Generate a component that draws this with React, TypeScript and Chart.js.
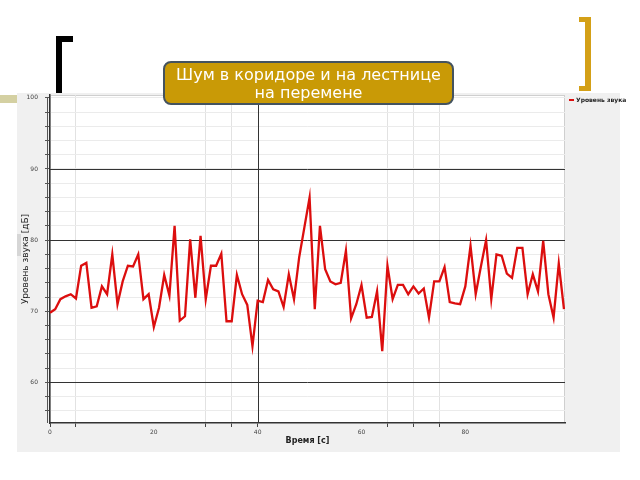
import React, { useEffect, useRef } from "react";
import { Chart, registerables } from "chart.js";

Chart.register(...registerables);

// ---- data ----
const times = [
  0, 1, 2, 3, 4, 5, 6, 7, 8, 9,
  10, 11, 12, 13, 14, 15, 16, 17, 18, 19,
  20, 21, 22, 23, 24, 25, 26, 27, 28, 29,
  30, 31, 32, 33, 34, 35, 36, 37, 38, 39,
  40, 41, 42, 43, 44, 45, 46, 47, 48, 49,
  50, 51, 52, 53, 54, 55, 56, 57, 58, 59,
  60, 61, 62, 63, 64, 65, 66, 67, 68, 69,
  70, 71, 72, 73, 74, 75, 76, 77, 78, 79,
  80, 81, 82, 83, 84, 85, 86, 87, 88, 89,
  90, 91, 92, 93, 94, 95, 96, 97, 98, 99,
];

const soundLevel = [
  69.8, 70.3, 71.7, 72.1, 72.4, 71.8, 76.4, 76.8, 70.5, 70.7,
  73.5, 72.4, 78.0, 71.0, 74.2, 76.4, 76.3, 78.0, 71.7, 72.4,
  67.8, 70.5, 75.1, 72.2, 82.0, 68.7, 69.3, 80.1, 71.9, 80.6,
  71.7, 76.4, 76.4, 78.1, 68.6, 68.6, 75.1, 72.4, 70.9, 65.1,
  71.5, 71.3, 74.4, 73.1, 72.8, 70.6, 75.2, 71.7, 77.6, 81.8,
  86.0, 70.3, 82.0, 75.9, 74.2, 73.8, 74.0, 78.5, 69.0, 71.0,
  73.7, 69.1, 69.2, 72.8, 64.4, 76.4, 71.7, 73.7, 73.7, 72.4,
  73.5, 72.5, 73.2, 69.1, 74.2, 74.2, 76.2, 71.3, 71.1, 71.0,
  73.5, 79.2, 72.4, 76.3, 80.0, 71.7, 78.0, 77.8, 75.3, 74.7,
  78.9, 78.9, 72.4, 75.2, 72.8, 79.9, 72.4, 69.1, 76.7, 70.3,
];

const yTickValues = [
  56, 58, 60, 62, 64, 66, 68, 70, 72, 74, 76, 78,
  80, 82, 84, 86, 88, 90, 92, 94, 96, 98, 100,
];
const yLabelValues = [60, 70, 80, 90, 100];
const yStrongLines = [60, 80, 90];

const xTickValues = [0, 5, 20, 30, 35, 40, 60, 65, 70, 75, 80];
const xLabelValues = [0, 20, 40, 60, 80];
const xLightLines = [5, 30, 35, 65, 70, 75];
const xStrongLines = [40];

const seriesName = "Уровень звука";
const titleLines = ["Шум в коридоре и на лестнице", "на перемене"];
const xTitle = "Время [с]";
const yTitle = "Уровень звука [дБ]";

const RED = "rgb(220,14,14)";

const decorPlugin = {
  id: "decor",
  beforeDraw(chart: any) {
    const { ctx, chartArea } = chart;
    ctx.save();
    ctx.fillStyle = "#ffffff";
    ctx.fillRect(0, 0, chart.width, chart.height);
    // khaki strip
    ctx.fillStyle = "#d4d0a2";
    ctx.fillRect(0, 95, 17, 8);
    // gray panel
    ctx.fillStyle = "#f0f0f0";
    ctx.fillRect(17, 93, 603, 359);
    // plot area
    ctx.fillStyle = "#ffffff";
    ctx.fillRect(chartArea.left, chartArea.top, chartArea.right - chartArea.left, chartArea.bottom - chartArea.top);
    ctx.strokeStyle = "#cfcfcf";
    ctx.lineWidth = 1;
    ctx.strokeRect(chartArea.left + 0.5, chartArea.top + 0.5, chartArea.right - chartArea.left - 1, chartArea.bottom - chartArea.top - 1);
    ctx.restore();
  },
  beforeDatasetsDraw(chart: any) {
    // strong grid lines drawn on top of the light grid
    const { ctx, chartArea, scales } = chart;
    ctx.save();
    ctx.strokeStyle = "#333333";
    ctx.lineWidth = 1;
    ctx.beginPath();
    yStrongLines.forEach((v) => {
      const y = Math.round(scales.y.getPixelForValue(v)) + 0.5;
      ctx.moveTo(chartArea.left, y);
      ctx.lineTo(chartArea.right, y);
    });
    xStrongLines.forEach((v) => {
      const x = Math.round(scales.x.getPixelForValue(v)) + 0.5;
      ctx.moveTo(x, chartArea.top);
      ctx.lineTo(x, chartArea.bottom);
    });
    ctx.stroke();
    ctx.restore();
  },
  afterDraw(chart: any) {
    const { ctx, chartArea } = chart;
    ctx.save();
    // second line of the double y axis
    ctx.strokeStyle = "#555";
    ctx.lineWidth = 1;
    ctx.beginPath();
    ctx.moveTo(47.5, chartArea.top + 2);
    ctx.lineTo(47.5, chartArea.bottom);
    ctx.stroke();

    // small tab near y title
    ctx.fillStyle = "#d6d6d6";
    ctx.fillRect(17, 234, 4, 22);

    // black bracket
    ctx.fillStyle = "#000000";
    ctx.fillRect(56, 36, 6, 57);
    ctx.fillRect(56, 36, 17, 6);

    // gold bracket
    ctx.fillStyle = "#d4a017";
    ctx.fillRect(579, 17, 12, 5);
    ctx.fillRect(585, 17, 6, 74);
    ctx.fillRect(579, 86, 12, 5);

    // title box
    const bx = 164, by = 62, bw = 289, bh = 42, r = 7;
    ctx.beginPath();
    ctx.moveTo(bx + r, by);
    ctx.lineTo(bx + bw - r, by);
    ctx.arcTo(bx + bw, by, bx + bw, by + r, r);
    ctx.lineTo(bx + bw, by + bh - r);
    ctx.arcTo(bx + bw, by + bh, bx + bw - r, by + bh, r);
    ctx.lineTo(bx + r, by + bh);
    ctx.arcTo(bx, by + bh, bx, by + bh - r, r);
    ctx.lineTo(bx, by + r);
    ctx.arcTo(bx, by, bx + r, by, r);
    ctx.closePath();
    ctx.fillStyle = "#c99a06";
    ctx.fill();
    ctx.strokeStyle = "#44535f";
    ctx.lineWidth = 2;
    ctx.stroke();
    ctx.fillStyle = "#ffffff";
    ctx.font = "16px 'DejaVu Sans', sans-serif";
    ctx.textAlign = "center";
    ctx.textBaseline = "middle";
    ctx.fillText(titleLines[0], bx + bw / 2, 76);
    ctx.fillText(titleLines[1], bx + bw / 2, 94);

    // legend
    ctx.fillStyle = RED;
    ctx.fillRect(569, 99, 5, 2);
    ctx.fillStyle = "#222";
    ctx.font = "bold 6px 'DejaVu Sans', sans-serif";
    ctx.textAlign = "left";
    ctx.textBaseline = "middle";
    ctx.fillText(seriesName, 576, 100);
    ctx.restore();
  },
};

export default function App() {
  const ref = useRef<HTMLCanvasElement | null>(null);

  useEffect(() => {
    if (!ref.current) return;
    const chart = new Chart(ref.current, {
      type: "line",
      data: {
        datasets: [
          {
            label: seriesName,
            data: times.map((t, i) => ({ x: t, y: soundLevel[i] })),
            borderColor: RED,
            backgroundColor: RED,
            borderWidth: 2.3,
            pointRadius: 0,
            tension: 0,
          },
        ],
      },
      options: {
        responsive: false,
        animation: false,
        layout: { padding: { left: 17, right: 75, top: 95, bottom: 28 } },
        plugins: {
          legend: { display: false },
          tooltip: { enabled: false },
        },
        scales: {
          x: {
            type: "linear",
            min: 0,
            max: 99.2,
            afterBuildTicks: (scale: any) => {
              scale.ticks = xTickValues.map((v) => ({ value: v }));
            },
            afterFit: (scale: any) => {
              scale.height = 29;
            },
            ticks: {
              autoSkip: false,
              maxRotation: 0,
              padding: 2,
              color: "#444",
              font: { size: 6, family: "'DejaVu Sans', sans-serif" },
              callback: (v: any) => (xLabelValues.includes(v) ? String(v) : ""),
            },
            grid: {
              drawTicks: true,
              tickLength: 4,
              color: (c: any) => {
                const v = c.tick && c.tick.value;
                if (xLightLines.includes(v)) return "#e2e2e2";
                return "rgba(0,0,0,0)";
              },
              tickColor: (c: any) => {
                const v = c.tick && c.tick.value;
                if (xStrongLines.includes(v) || xLightLines.includes(v) || v === 0) return "#444";
                return "rgba(0,0,0,0)";
              },
              lineWidth: 1,
            },
            border: { display: true, color: "#333", width: 1.5 },
            title: {
              display: true,
              text: xTitle,
              color: "#222",
              font: { size: 8, weight: "bold", family: "'DejaVu Sans', sans-serif" },
              padding: { top: 0, bottom: 6 },
            },
          },
          y: {
            type: "linear",
            min: 54.3,
            max: 100.4,
            afterBuildTicks: (scale: any) => {
              scale.ticks = yTickValues.map((v) => ({ value: v }));
            },
            afterFit: (scale: any) => {
              scale.width = 33;
            },
            ticks: {
              autoSkip: false,
              padding: 7,
              color: "#444",
              font: { size: 6, family: "'DejaVu Sans', sans-serif" },
              callback: (v: any) => (yLabelValues.includes(v) ? String(v) : ""),
            },
            grid: {
              drawTicks: true,
              tickLength: 5,
              color: "#ebebeb",
              tickColor: "#555",
              lineWidth: 1,
            },
            border: { display: true, color: "#333", width: 1.5 },
            title: {
              display: true,
              text: yTitle,
              color: "#222",
              font: { size: 9, family: "'DejaVu Sans', sans-serif" },
              padding: { top: 3, bottom: 0 },
            },
          },
        },
      },
      plugins: [decorPlugin],
    } as any);
    return () => chart.destroy();
  }, []);

  return (
    <div style={{ position: "fixed", left: 0, top: 0, width: 640, height: 480, background: "#fff" }}>
      <canvas ref={ref} width={640} height={480} style={{ width: 640, height: 480, display: "block" }} />
    </div>
  );
}
